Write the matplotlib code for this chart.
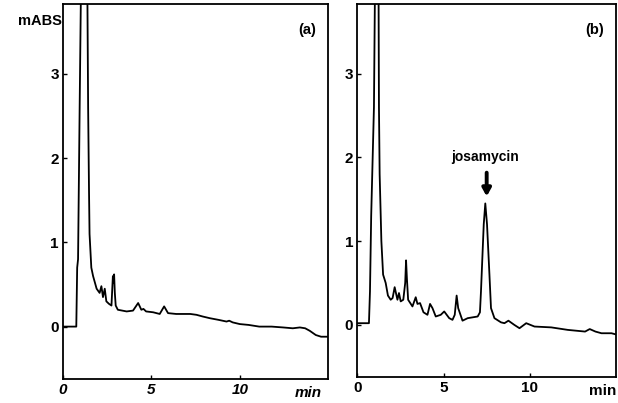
import matplotlib
matplotlib.use('Agg')
import matplotlib.pyplot as plt
import numpy as np

# chromatogram (a): blank sample
t_a = [0.0, 0.3, 0.6, 0.75, 0.8, 0.85, 0.94, 1.04, 1.2, 1.36, 1.42, 1.47, 1.5, 1.6, 1.7,
       1.9, 2.07, 2.17, 2.26, 2.36, 2.45, 2.6, 2.74, 2.82, 2.86, 2.89, 2.93, 2.98, 3.1,
       3.6, 3.96, 4.25, 4.43, 4.55, 4.7, 5.1, 5.47, 5.72, 5.94, 6.4, 6.8, 7.2, 7.55, 7.9,
       8.3, 8.8, 9.25, 9.4, 9.6, 10.0, 10.5, 11.1, 11.8, 12.45, 13.0, 13.4, 13.7, 13.96,
       14.3, 14.6, 15.0]
y_a = [0.0, 0.0, 0.0, 0.0, 0.7, 0.8, 2.6, 4.5, 6.0, 4.5, 2.6, 1.6, 1.1, 0.7, 0.6,
       0.45, 0.4, 0.48, 0.35, 0.45, 0.3, 0.27, 0.25, 0.6, 0.52, 0.62, 0.4, 0.25, 0.2,
       0.18, 0.19, 0.28, 0.2, 0.21, 0.18, 0.17, 0.15, 0.24, 0.16, 0.15, 0.15, 0.15, 0.14,
       0.12, 0.1, 0.08, 0.06, 0.07, 0.05, 0.03, 0.02, 0.0, 0.0, -0.01, -0.02, -0.01, -0.02,
       -0.05, -0.1, -0.12, -0.12]

# chromatogram (b): spiked sample with josamycin
t_b = [0.0, 0.3, 0.68, 0.74, 0.81, 0.97, 1.07, 1.15, 1.22, 1.26, 1.3, 1.4, 1.5, 1.65,
       1.78, 1.94, 2.05, 2.17, 2.33, 2.42, 2.52, 2.67, 2.78, 2.83, 2.88, 2.95, 3.2,
       3.39, 3.49, 3.64, 3.84, 4.07, 4.22, 4.36, 4.55, 4.84, 5.04, 5.33, 5.52, 5.65,
       5.76, 5.85, 6.1, 6.4, 6.98, 7.11, 7.17, 7.33, 7.42, 7.52, 7.66, 7.75, 7.95, 8.33,
       8.53, 8.76, 9.1, 9.4, 9.79, 10.27, 11.24, 12.2, 13.2, 13.47, 13.8, 14.15, 14.73,
       15.1]
y_b = [0.02, 0.02, 0.02, 0.4, 1.3, 2.6, 5.0, 6.5, 5.0, 2.6, 1.8, 1.0, 0.6, 0.5,
       0.35, 0.3, 0.32, 0.45, 0.3, 0.38, 0.28, 0.3, 0.5, 0.77, 0.55, 0.3, 0.22,
       0.33, 0.25, 0.26, 0.15, 0.12, 0.25, 0.2, 0.1, 0.12, 0.16, 0.08, 0.06, 0.12,
       0.35, 0.2, 0.05, 0.08, 0.1, 0.15, 0.4, 1.2, 1.45, 1.2, 0.6, 0.2, 0.08, 0.03,
       0.02, 0.05, 0.0, -0.04, 0.02, -0.02, -0.03, -0.06, -0.08, -0.05, -0.08, -0.1, -0.1,
       -0.12]

plt.rcParams['font.family'] = ['Liberation Sans', 'DejaVu Sans']
plt.rcParams['font.weight'] = 'bold'

fig = plt.figure(figsize=(6.18, 4.03), dpi=100)
ax1 = fig.add_axes([0.102, 0.060, 0.429, 0.930])
ax2 = fig.add_axes([0.578, 0.065, 0.419, 0.925])

for ax, t, y, italic in [(ax1, t_a, y_a, True), (ax2, t_b, y_b, False)]:
    ax.plot(t, y, color='black', lw=1.3)
    ax.set_xlim(0, 15)
    ax.set_ylim(-0.62, 3.83)
    ax.set_xticks([0, 5, 10])
    ax.set_yticks([0, 1, 2, 3])
    ax.tick_params(direction='in', length=3, width=1, labelsize=11, pad=3)
    for lab in ax.get_xticklabels():
        lab.set_fontweight('bold')
        if italic:
            lab.set_fontstyle('italic')
    for lab in ax.get_yticklabels():
        lab.set_fontweight('bold')
    for s in ax.spines.values():
        s.set_linewidth(1.3)

ax1.text(0.975, -0.018, 'min', transform=ax1.transAxes, ha='right', va='top',
         fontsize=11, fontweight='bold', style='italic')
ax2.text(1.0, -0.018, 'min', transform=ax2.transAxes, ha='right', va='top',
         fontsize=11, fontweight='bold')

ax1.text(-0.005, 0.955, 'mABS', transform=ax1.transAxes, ha='right', va='center',
         fontsize=10.5, fontweight='bold')
ax1.text(0.955, 0.93, '(a)', transform=ax1.transAxes, ha='right', va='center',
         fontsize=10.5, fontweight='bold')
ax2.text(0.955, 0.93, '(b)', transform=ax2.transAxes, ha='right', va='center',
         fontsize=10.5, fontweight='bold')

ax2.text(7.4, 2.0, 'josamycin', ha='center', va='center', fontsize=10, fontweight='bold')
ax2.annotate('', xy=(7.5, 1.5), xytext=(7.5, 1.85),
             arrowprops=dict(arrowstyle='-|>,head_width=0.25,head_length=0.45',
                             color='black', lw=2.8))

fig.savefig('out.png', dpi=100)
